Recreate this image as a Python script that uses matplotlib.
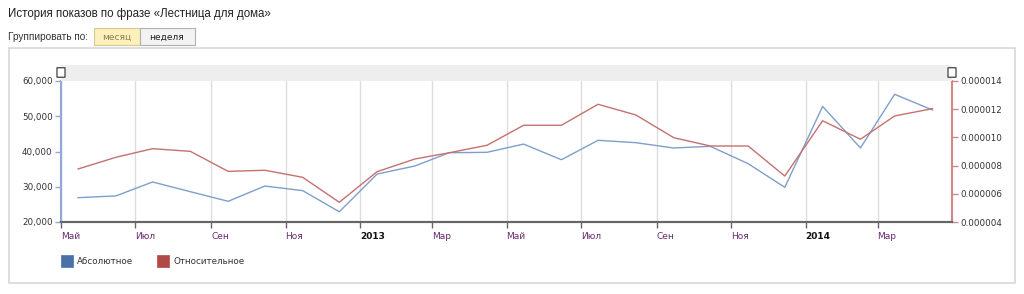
import numpy as np
import pandas as pd
import matplotlib
matplotlib.use("Agg")
import matplotlib.pyplot as plt
import matplotlib.dates as mdates
from matplotlib.patches import Rectangle, FancyBboxPatch

# monthly data, points at mid-month, May 2012 .. Apr 2014
months = pd.date_range("2012-05-01", periods=24, freq="MS") + pd.Timedelta(days=14)
absolute = [26900, 27400, 31350, 28600, 25870, 30200, 28900, 22900,
            33600, 35900, 39650, 39770, 42100, 37670, 43170, 42500,
            41000, 41470, 36540, 29840, 52800, 41000, 56230, 51770]
relative = [7.76, 8.59, 9.20, 9.01, 7.59, 7.67, 7.17, 5.40,
            7.57, 8.47, 8.91, 9.44, 10.86, 10.86, 12.35, 11.59,
            9.98, 9.39, 9.39, 7.26, 11.18, 9.87, 11.52, 12.04]
relative = [v * 1e-6 for v in relative]

tick_dates = pd.date_range("2012-05-01", periods=12, freq="2MS")
tick_labels = ["Май", "Июл", "Сен", "Ноя", "2013", "Мар",
               "Май", "Июл", "Сен", "Ноя", "2014", "Мар"]
left_ticks = [20000, 30000, 40000, 50000, 60000]
right_ticks = [0.000004, 0.000006, 0.000008, 0.000010, 0.000012, 0.000014]

W, H = 1024, 294
fig = plt.figure(figsize=(W / 100, H / 100), dpi=100)
fig.patch.set_facecolor("white")

def fx(px):
    return px / W

def fy(py):
    return 1 - py / H

# header texts
fig.text(fx(8), fy(14), "История показов по фразе «Лестница для дома»",
         family="Liberation Sans", fontsize=8.3, color="#222222", va="center")
fig.text(fx(8), fy(37), "Группировать по:", family="Liberation Sans",
         fontsize=7.2, color="#333333", va="center")
fig.patches.append(Rectangle((fx(94), fy(45)), fx(46), (45 - 28) / H,
                             transform=fig.transFigure, facecolor="#fdf0bc",
                             edgecolor="#d6c98a", lw=0.8))
fig.patches.append(Rectangle((fx(140), fy(45)), fx(55), (45 - 28) / H,
                             transform=fig.transFigure, facecolor="#f3f3f3",
                             edgecolor="#b0b0b0", lw=0.8))
fig.text(fx(117), fy(37), "месяц", family="DejaVu Sans", fontsize=6.5,
         color="#8c7d55", ha="center", va="center")
fig.text(fx(167), fy(37), "неделя", family="DejaVu Sans", fontsize=6.5,
         color="#222222", ha="center", va="center")

# outer frame
fig.patches.append(Rectangle((fx(9), fy(283)), fx(1006), (283 - 48) / H,
                             transform=fig.transFigure, facecolor="none",
                             edgecolor="#d8d8d8", lw=1.2))

# grey band on top of plot
fig.patches.append(Rectangle((fx(61), fy(81)), fx(891), 16 / H,
                             transform=fig.transFigure, facecolor="#eeeeee",
                             edgecolor="none"))
for hx in (61, 952):
    fig.patches.append(FancyBboxPatch((fx(hx - 3), fy(77)), fx(6), 9 / H,
                                      boxstyle="round,pad=0.001",
                                      transform=fig.transFigure,
                                      facecolor="white", edgecolor="#555555",
                                      lw=1.0))

ax = fig.add_axes([fx(61), fy(222), fx(891), (222 - 81) / H])
ax2 = ax.twinx()

blue_line = "#7f9fca"
red_line = "#c4716f"
ax.plot(months, absolute, color=blue_line, lw=1.0, zorder=3)
ax2.plot(months, relative, color=red_line, lw=1.0, zorder=3)

ax.set_xlim(pd.Timestamp("2012-05-01"), pd.Timestamp("2014-05-01"))
ax.set_ylim(20000, 60000)
ax2.set_ylim(0.000004, 0.000014)

ax.set_xticks(tick_dates)
ax.set_xticklabels(tick_labels)
ax.grid(axis="x", color="#dddddd", lw=1.0)
ax.set_axisbelow(True)
for lbl in ax.get_xticklabels():
    if lbl.get_text().isdigit():
        lbl.set_fontweight("bold")
        lbl.set_color("#111111")
    else:
        lbl.set_color("#6b2a6e")
    lbl.set_fontsize(6.5)
    lbl.set_ha("left")

ax.set_yticks(left_ticks)
ax.set_yticklabels([f"{v:,}" for v in left_ticks])
ax2.set_yticks(right_ticks)
ax2.set_yticklabels([f"{v:.6f}" for v in right_ticks])

ax.tick_params(axis="x", length=4, width=1, color="#666666", pad=3)
ax.tick_params(axis="y", length=4, width=1, color="#8eaad6",
               labelsize=6.3, labelcolor="#333333", pad=2)
ax2.tick_params(axis="y", length=4, width=1, color="#d08a8a",
                labelsize=6.3, labelcolor="#333333", pad=2)

for a in (ax, ax2):
    a.spines["top"].set_visible(False)
    a.spines["bottom"].set_color("#666666")
    a.spines["bottom"].set_linewidth(1.5)
    a.spines["left"].set_color("#8eaad6")
    a.spines["left"].set_linewidth(1.5)
    a.spines["right"].set_color("#d08a8a")
    a.spines["right"].set_linewidth(1.5)
ax.patch.set_visible(False)

# legend
legend_items = [("Абсолютное", "#4a72a8", 61), ("Относительное", "#b14a47", 157)]
for name, col, lx in legend_items:
    fig.patches.append(Rectangle((fx(lx), fy(267)), fx(12), 12 / H,
                                 transform=fig.transFigure, facecolor=col,
                                 edgecolor=col, lw=0.5))
    fig.text(fx(lx + 16), fy(261), name, family="DejaVu Sans", fontsize=6.3,
             color="#333333", va="center")

fig.savefig("out.png", dpi=100)
